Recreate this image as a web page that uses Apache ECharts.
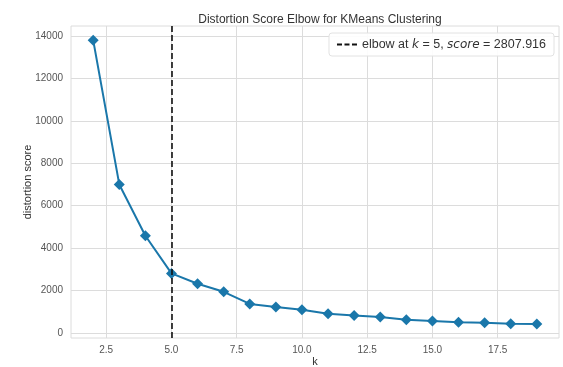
<!DOCTYPE html>
<html>
<head>
<meta charset="utf-8">
<script src="https://cdn.jsdelivr.net/npm/echarts@6/dist/echarts.min.js"></script>
<style>
  html, body { margin: 0; padding: 0; background: #fff; }
  #chart { width: 563px; height: 367px; }
</style>
</head>
<body>
<div id="chart"></div>
<script>
const kValues = [2, 3, 4, 5, 6, 7, 8, 9, 10, 11, 12, 13, 14, 15, 16, 17, 18, 19];
const distortion = [13800, 7000, 4580, 2807.916, 2320, 1940, 1370, 1220, 1090, 900, 820, 750, 620, 560, 510, 480, 430, 420];
const xTicks = [2.5, 5.0, 7.5, 10.0, 12.5, 15.0, 17.5];
const yTicks = [0, 2000, 4000, 6000, 8000, 10000, 12000, 14000];
const elbowK = 5;
const elbowScore = 2807.916;

const chart = echarts.init(document.getElementById("chart"));

const gridColor = "#dcdcdc";
const blue = "#1a77aa";
// three dashes, used as the legend key of the elbow line
const dashIcon = "path://M0,0h5v2h-5z M7.5,0h5v2h-5z M15,0h5v2h-5z";

chart.setOption({
  animation: false,
  backgroundColor: "#fff",
  title: {
    text: "Distortion Score Elbow for KMeans Clustering",
    left: 315,
    textAlign: "center",
    top: 9,
    textStyle: { fontFamily: "Liberation Sans", fontSize: 12, fontWeight: "normal", color: "#333" },
  },
  legend: {
    right: 9,
    top: 33,
    padding: [5, 8, 5, 8],
    backgroundColor: "rgba(255,255,255,0.9)",
    borderColor: "#e2e2e2",
    borderWidth: 1,
    borderRadius: 3,
    itemWidth: 20,
    itemHeight: 2,
    itemGap: 8,
    data: [{ name: "elbow", icon: dashIcon }],
    formatter: () => "{n|elbow at }{i|k}{n| = " + elbowK + ", }{i|score}{n| = " + elbowScore + "}",
    textStyle: {
      rich: {
        n: { fontFamily: "Liberation Sans", fontSize: 12.5, color: "#333" },
        i: { fontFamily: "DejaVu Sans", fontStyle: "italic", fontSize: 12, color: "#333" },
      },
    },
  },
  grid: {
    left: 71, right: 4, top: 26, bottom: 29,
    outerBoundsMode: "none",
    show: true, borderColor: gridColor, borderWidth: 1,
  },
  xAxis: {
    type: "value",
    min: 1.15,
    max: 19.85,
    name: "k",
    nameLocation: "middle",
    nameGap: 18,
    nameMoveOverlap: false,
    nameTextStyle: { fontFamily: "Liberation Sans", fontSize: 11, color: "#333" },
    axisLine: { show: false },
    axisTick: { show: false, customValues: xTicks },
    axisLabel: {
      customValues: xTicks,
      formatter: (v) => v.toFixed(1),
      fontFamily: "Liberation Sans", fontSize: 10, color: "#555", margin: 7,
    },
    splitLine: { show: true, lineStyle: { color: gridColor, width: 1 } },
  },
  yAxis: {
    type: "value",
    min: -238,
    max: 14468,
    name: "distortion score",
    nameLocation: "middle",
    nameGap: 38,
    nameMoveOverlap: false,
    nameTextStyle: { fontFamily: "Liberation Sans", fontSize: 11, color: "#333" },
    axisLine: { show: false },
    axisTick: { show: false, customValues: yTicks },
    axisLabel: {
      customValues: yTicks,
      formatter: (v) => String(v),
      fontFamily: "Liberation Sans", fontSize: 10, color: "#555", margin: 8,
    },
    splitLine: { show: true, lineStyle: { color: gridColor, width: 1 } },
  },
  series: [
    {
      name: "distortion",
      type: "line",
      data: kValues.map((k, i) => [k, distortion[i]]),
      symbol: "diamond",
      symbolSize: 11,
      lineStyle: { color: blue, width: 2 },
      itemStyle: { color: blue },
      z: 3,
    },
    {
      name: "elbow",
      type: "line",
      data: [],
      symbol: "none",
      lineStyle: { color: "#111", width: 1.6, type: [6, 3] },
      itemStyle: { color: "#111" },
      markLine: {
        silent: true,
        symbol: "none",
        label: { show: false },
        lineStyle: { color: "#111", width: 1.6, type: [6, 3] },
        data: [{ xAxis: elbowK }],
      },
      z: 4,
    },
  ],
});
</script>
</body>
</html>
